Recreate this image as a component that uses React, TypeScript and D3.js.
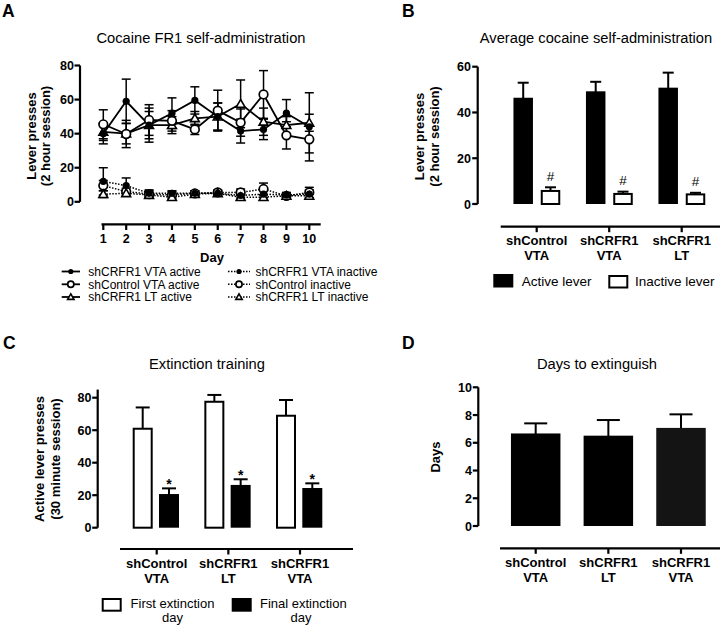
import React from "react";
import * as d3 from "d3";

// ---------- DATA ----------
const days = [1, 2, 3, 4, 5, 6, 7, 8, 9, 10];
const dayTicks = [1, 2, 3, 4, 5, 6, 7, 8, 9, 10];
const yTicksA = [0, 20, 40, 60, 80];

const vtaActive = [40, 59, 45, 52, 59.5, 50, 41.5, 42.5, 52, 44];
const vtaActiveSem = [6, 13, 8, 9, 8, 8, 7, 6, 8, 20];
const ctrlActive = [45.5, 39.8, 48, 47.5, 42.5, 53.5, 46.5, 63, 39, 36.7];
const ctrlActiveSem = [8.5, 8, 9, 6, 3, 12, 8, 14, 8, 8];
const ltActive = [41, 40, 45, 45, 49, 50, 57.5, 47, 45, 46.4];
const ltActiveSem = [5, 6, 10, 5, 4, 8, 14, 8, 5, 5];

const vtaInactive = [12, 9.5, 5, 5, 5, 5, 3.7, 4.5, 4, 4.5];
const vtaInactiveSem = [8, 4.5, 2, 1.5, 1.5, 1.5, 1.5, 2, 1.5, 2.5];
const ctrlInactive = [9.5, 6, 4.5, 4, 5, 5.5, 5.5, 7.5, 3.5, 5.5];
const ctrlInactiveSem = [3, 2, 2, 2, 1.5, 1.5, 2, 3.5, 1.5, 3];
const ltInactive = [4.5, 5, 4, 2.7, 4.5, 5, 2.7, 2.7, 3.5, 3.5];
const ltInactiveSem = [2, 1.5, 1.5, 1.5, 1, 1, 1.5, 1.5, 1, 1.5];

const catsB = ["shControl|VTA", "shCRFR1|VTA", "shCRFR1|LT"];
const activeB = [46, 48.8, 50.4];
const activeBSem = [7, 4.6, 7];
const inactiveB = [5.7, 4.4, 4.2];
const inactiveBSem = [1.6, 1.0, 0.7];
const yTicksB = [0, 20, 40, 60];

const catsC = ["shControl|VTA", "shCRFR1|LT", "shCRFR1|VTA"];
const firstDayC = [60.9, 77.5, 68.9];
const firstDayCSem = [13.1, 4.2, 9.7];
const finalDayC = [20.1, 25.7, 23.8];
const finalDayCSem = [4.1, 4.1, 3.5];
const yTicksC = [0, 20, 40, 60, 80];

const catsD = ["shControl|VTA", "shCRFR1|LT", "shCRFR1|VTA"];
const daysD = [6.6, 6.44, 7.0];
const daysDSem = [0.8, 1.2, 1.05];
const yTicksD = [0, 2, 4, 6, 8, 10];

// ---------- STYLE ----------
const FONT = "'Liberation Sans', Arial, Helvetica, sans-serif";
const AX = 2.2;

type Shape = "filled" | "open" | "triangle";

function Marker({ x, y, shape, k = 1 }: { x: number; y: number; shape: Shape; k?: number }) {
  if (shape === "filled") return <circle cx={x} cy={y} r={3.6 * k} fill="#000" />;
  if (shape === "open")
    return <circle cx={x} cy={y} r={4.3 * k} fill="#fff" stroke="#000" strokeWidth={1.7} />;
  const p = d3.symbol().type(d3.symbolTriangle).size(34 * k * k)()!;
  return (
    <path d={p} transform={`translate(${x},${y + 0.8 * k})`} fill="#fff" stroke="#000" strokeWidth={1.6} />
  );
}

function YAxis({ x, y, ticks, labelX }: { x: number; y: any; ticks: number[]; labelX: number }) {
  const d = y.domain();
  return (
    <g>
      <line x1={x} x2={x} y1={y(d[0])} y2={y(d[1])} stroke="#000" strokeWidth={AX} />
      {ticks.map((t) => (
        <g key={t}>
          <line x1={x - 5.5} x2={x} y1={y(t)} y2={y(t)} stroke="#000" strokeWidth={AX} />
          <text x={labelX} y={y(t)} dy="0.36em" textAnchor="end" fontWeight="bold" fontSize={12.5}>
            {t}
          </text>
        </g>
      ))}
    </g>
  );
}

function CatAxis({ y, x0, x1, cats, xs }: { y: number; x0: number; x1: number; cats: string[]; xs: (c: string) => number }) {
  return (
    <g>
      <line x1={x0} x2={x1} y1={y} y2={y} stroke="#000" strokeWidth={AX} />
      {cats.map((c) => {
        const [l1, l2] = c.split("|");
        const cx = xs(c);
        return (
          <g key={c}>
            <line x1={cx} x2={cx} y1={y} y2={y + 5.5} stroke="#000" strokeWidth={AX} />
            <text x={cx} y={y + 14} dy="0.36em" textAnchor="middle" fontWeight="bold" fontSize={13}>
              {l1}
            </text>
            <text x={cx} y={y + 29} dy="0.36em" textAnchor="middle" fontWeight="bold" fontSize={13}>
              {l2}
            </text>
          </g>
        );
      })}
    </g>
  );
}

function YLabel({ x, y, text, size = 13 }: { x: number; y: number; text: string; size?: number }) {
  return (
    <text transform={`translate(${x},${y}) rotate(-90)`} dy="0.36em" textAnchor="middle" fontWeight="bold" fontSize={size}>
      {text}
    </text>
  );
}

function Bar({ x, w, y, v, sem, open, cap }: { x: number; w: number; y: any; v: number; sem: number; open?: boolean; cap: number }) {
  const y0 = y(0);
  const yt = y(v);
  const ye = y(v + sem);
  const cx = x + w / 2;
  return (
    <g>
      <line x1={cx} x2={cx} y1={yt} y2={ye} stroke="#000" strokeWidth={2} />
      <line x1={cx - cap} x2={cx + cap} y1={ye} y2={ye} stroke="#000" strokeWidth={2} />
      {open ? (
        <rect x={x + 1} y={yt} width={w - 2} height={y0 - yt} fill="#fff" stroke="#000" strokeWidth={2} />
      ) : (
        <rect x={x} y={yt - 1} width={w} height={y0 - yt + 1} fill="#000" />
      )}
    </g>
  );
}

// ---------- PANEL A ----------
function PanelA() {
  const x = d3.scaleLinear().domain([1, 10]).range([103.3, 309.3]);
  const y = d3.scaleLinear().domain([0, 80]).range([201.8, 65.5]);
  const series = [
    { v: ctrlInactive, s: ctrlInactiveSem, shape: "open" as Shape, dotted: true },
    { v: ltInactive, s: ltInactiveSem, shape: "triangle" as Shape, dotted: true },
    { v: vtaInactive, s: vtaInactiveSem, shape: "filled" as Shape, dotted: true },
    { v: ltActive, s: ltActiveSem, shape: "triangle" as Shape, dotted: false },
    { v: ctrlActive, s: ctrlActiveSem, shape: "open" as Shape, dotted: false },
    { v: vtaActive, s: vtaActiveSem, shape: "filled" as Shape, dotted: false },
  ];
  const line = d3
    .line<number>()
    .x((_, i) => x(days[i]))
    .y((d) => y(d));
  const legendLeft = [
    { label: "shCRFR1 VTA active", shape: "filled" as Shape },
    { label: "shControl VTA active", shape: "open" as Shape },
    { label: "shCRFR1 LT active", shape: "triangle" as Shape },
  ];
  const legendRight = [
    { label: "shCRFR1 VTA inactive", shape: "filled" as Shape },
    { label: "shControl inactive", shape: "open" as Shape },
    { label: "shCRFR1 LT inactive", shape: "triangle" as Shape },
  ];
  const rowY = [271.5, 284.3, 297];
  return (
    <g>
      <text x={2} y={17} fontWeight="bold" fontSize={17.5}>A</text>
      <text x={201} y={43} textAnchor="middle" fontSize={14.7}>Cocaine FR1 self-administration</text>
      <YLabel x={31.5} y={136} text="Lever presses" />
      <YLabel x={45} y={136} text="(2 hour session)" />
      <YAxis x={80} y={y} ticks={yTicksA} labelX={74} />
      <line x1={101.5} x2={320.7} y1={224.3} y2={224.3} stroke="#000" strokeWidth={AX} />
      {dayTicks.map((d) => (
        <g key={d}>
          <line x1={x(d)} x2={x(d)} y1={224.3} y2={230} stroke="#000" strokeWidth={AX} />
          <text x={x(d)} y={238.5} dy="0.36em" textAnchor="middle" fontWeight="bold" fontSize={12.5}>
            {d}
          </text>
        </g>
      ))}
      <text x={212} y={262} textAnchor="middle" fontWeight="bold" fontSize={13}>Day</text>
      {series.map((s, si) => (
        <g key={"e" + si}>
          {s.v.map((v, i) => {
            const cx = x(days[i]);
            return (
              <g key={i}>
                <line x1={cx} x2={cx} y1={y(v - s.s[i])} y2={y(v + s.s[i])} stroke="#000" strokeWidth={1.5} />
                <line x1={cx - 4.5} x2={cx + 4.5} y1={y(v + s.s[i])} y2={y(v + s.s[i])} stroke="#000" strokeWidth={1.5} />
                <line x1={cx - 4.5} x2={cx + 4.5} y1={y(v - s.s[i])} y2={y(v - s.s[i])} stroke="#000" strokeWidth={1.5} />
              </g>
            );
          })}
        </g>
      ))}
      {series.map((s, si) => (
        <path
          key={"l" + si}
          d={line(s.v)!}
          fill="none"
          stroke="#000"
          strokeWidth={s.dotted ? 1.5 : 1.8}
          strokeDasharray={s.dotted ? "1.5 1.5" : undefined}
        />
      ))}
      {series.map((s, si) => (
        <g key={"m" + si}>
          {s.v.map((v, i) => (
            <Marker key={i} x={x(days[i])} y={y(v)} shape={s.shape} />
          ))}
        </g>
      ))}
      <g fontSize={12}>
        {legendLeft.map((l, i) => (
          <g key={l.label}>
            <line x1={61.7} x2={80} y1={rowY[i]} y2={rowY[i]} stroke="#000" strokeWidth={1.8} />
            <Marker x={70.8} y={rowY[i]} shape={l.shape} k={0.72} />
            <text x={88.3} y={rowY[i]} dy="0.36em">{l.label}</text>
          </g>
        ))}
        {legendRight.map((l, i) => (
          <g key={l.label}>
            <line x1={228} x2={250} y1={rowY[i]} y2={rowY[i]} stroke="#000" strokeWidth={1.5} strokeDasharray="1.5 1.5" />
            <Marker x={239} y={rowY[i]} shape={l.shape} k={0.72} />
            <text x={255.5} y={rowY[i]} dy="0.36em">{l.label}</text>
          </g>
        ))}
      </g>
    </g>
  );
}

// ---------- PANEL B ----------
function PanelB() {
  const y = d3.scaleLinear().domain([0, 60]).range([204, 66.7]);
  const xs = d3.scalePoint<string>().domain(catsB).range([536.7, 681.7]);
  const w = 19.5;
  return (
    <g>
      <text x={402} y={17} fontWeight="bold" fontSize={17.5}>B</text>
      <text x={596} y={43} textAnchor="middle" fontSize={14.7}>Average cocaine self-administration</text>
      <YLabel x={419} y={136.5} text="Lever presses" />
      <YLabel x={434} y={136.5} text="(2 hour session)" />
      <YAxis x={477.7} y={y} ticks={yTicksB} labelX={471} />
      <CatAxis y={226.7} x0={500.7} x1={720} cats={catsB} xs={(c) => xs(c)!} />
      {catsB.map((c, i) => {
        const cx = xs(c)!;
        const eTop = y(inactiveB[i] + inactiveBSem[i]);
        return (
          <g key={c}>
            <Bar x={cx - 13.5 - w / 2} w={w} y={y} v={activeB[i]} sem={activeBSem[i]} cap={5.5} />
            <Bar x={cx + 13.8 - w / 2} w={w} y={y} v={inactiveB[i]} sem={inactiveBSem[i]} cap={5.5} open />
            <text x={cx + 13.8} y={eTop - 6.5} textAnchor="middle" fontSize={13.5}>#</text>
          </g>
        );
      })}
      <rect x={493.3} y={274} width={20} height={13.5} fill="#000" />
      <text x={521.7} y={281} dy="0.36em" fontSize={13.5}>Active lever</text>
      <rect x={609.3} y={276} width={18} height={11.5} fill="#fff" stroke="#000" strokeWidth={2} />
      <text x={635} y={281} dy="0.36em" fontSize={13.5}>Inactive lever</text>
    </g>
  );
}

// ---------- PANEL C ----------
function PanelC() {
  const y = d3.scaleLinear().domain([0, 85]).range([527.7, 527.7 - 85 * 1.625]);
  const xs = d3.scalePoint<string>().domain(catsC).range([156.7, 300]);
  const w = 20;
  return (
    <g>
      <text x={3} y={349} fontWeight="bold" fontSize={17.5}>C</text>
      <text x={207} y={369} textAnchor="middle" fontSize={14.7}>Extinction training</text>
      <YLabel x={39} y={459} text="Active lever presses" />
      <YLabel x={55.5} y={459} text="(30 minute session)" />
      <YAxis x={97.7} y={y} ticks={yTicksC} labelX={91.5} />
      <CatAxis y={549} x0={120} x1={353} cats={catsC} xs={(c) => xs(c)!} />
      {catsC.map((c, i) => {
        const cx = xs(c)!;
        const eTop = y(finalDayC[i] + finalDayCSem[i]);
        return (
          <g key={c}>
            <Bar x={cx - 14 - w / 2} w={w} y={y} v={firstDayC[i]} sem={firstDayCSem[i]} cap={7} open />
            <Bar x={cx + 12.3 - w / 2} w={w} y={y} v={finalDayC[i]} sem={finalDayCSem[i]} cap={7} />
            <text x={cx + 12.3} y={eTop + 0.5} textAnchor="middle" fontWeight="bold" fontSize={14}>*</text>
          </g>
        );
      })}
      <rect x={102.7} y={599} width={18} height={11.7} fill="#fff" stroke="#000" strokeWidth={2} />
      <text x={172.5} y={603} dy="0.36em" textAnchor="middle" fontSize={13}>First extinction</text>
      <text x={172.5} y={617.5} dy="0.36em" textAnchor="middle" fontSize={13}>day</text>
      <rect x={231.7} y={598} width={20} height={13.7} fill="#000" />
      <text x={303.3} y={603} dy="0.36em" textAnchor="middle" fontSize={13}>Final extinction</text>
      <text x={301} y={617.5} dy="0.36em" textAnchor="middle" fontSize={13}>day</text>
    </g>
  );
}

// ---------- PANEL D ----------
function PanelD() {
  const y = d3.scaleLinear().domain([0, 10]).range([526, 387.3]);
  const xs = d3.scalePoint<string>().domain(catsD).range([535.7, 681]);
  const w = 49.5;
  const fills = ["#000", "#000", "#141414"];
  return (
    <g>
      <text x={402} y={349} fontWeight="bold" fontSize={17.5}>D</text>
      <text x={597} y={369} textAnchor="middle" fontSize={14.7}>Days to extinguish</text>
      <YLabel x={435} y={457} text="Days" />
      <YAxis x={478.3} y={y} ticks={yTicksD} labelX={472} />
      <CatAxis y={548.3} x0={500} x1={720} cats={catsD} xs={(c) => xs(c)!} />
      {catsD.map((c, i) => {
        const cx = xs(c)!;
        const yt = y(daysD[i]);
        const ye = y(daysD[i] + daysDSem[i]);
        return (
          <g key={c}>
            <line x1={cx} x2={cx} y1={yt} y2={ye} stroke="#000" strokeWidth={2} />
            <line x1={cx - 11.5} x2={cx + 11.5} y1={ye} y2={ye} stroke="#000" strokeWidth={2} />
            <rect x={cx - w / 2} y={yt - 1} width={w} height={y(0) - yt + 1} fill={fills[i]} />
          </g>
        );
      })}
    </g>
  );
}

export default function App() {
  return (
    <svg
      width={720}
      height={627}
      viewBox="0 0 720 627"
      style={{ position: "absolute", left: 0, top: 0, background: "#fff" }}
      fontFamily={FONT}
    >
      <rect x={0} y={0} width={720} height={627} fill="#fff" />
      <PanelA />
      <PanelB />
      <PanelC />
      <PanelD />
    </svg>
  );
}
